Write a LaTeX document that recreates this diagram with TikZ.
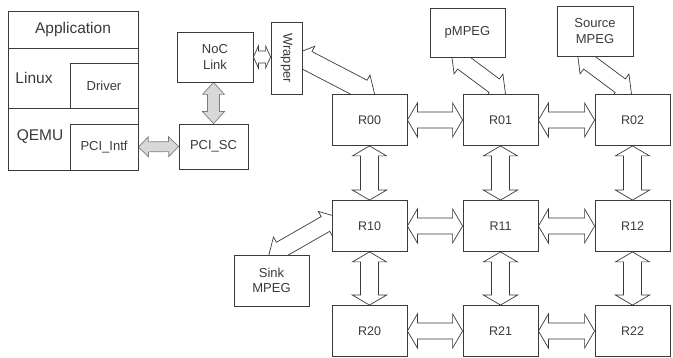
\documentclass[tikz,border=0pt]{standalone}
\usepackage{fontspec}
\setmainfont{Liberation Sans}
\usepackage{tikz}
\usetikzlibrary{calc,backgrounds}

\definecolor{edgegray}{HTML}{3A3A3A}
\definecolor{fillgray}{HTML}{D8D8D8}
\definecolor{rimgray}{HTML}{7C7C7C}

% block arrow with two heads: [style]{from}{to}{head half width}{shaft half width}{head length}
\newcommand{\fatarrow}[6][]{%
  \coordinate (fa1) at ($(#2)!#6!(#3)$);
  \coordinate (fa2) at ($(#3)!#6!(#2)$);
  \draw[#1] (#2) -- ($(fa1)!#4!90:(#3)$) -- ($(fa1)!#5!90:(#3)$)
    -- ($(fa2)!#5!-90:(#2)$) -- ($(fa2)!#4!-90:(#2)$) -- (#3)
    -- ($(fa2)!#4!90:(#2)$) -- ($(fa2)!#5!90:(#2)$)
    -- ($(fa1)!#5!-90:(#3)$) -- ($(fa1)!#4!-90:(#3)$) -- cycle;
}

\begin{document}
\begin{tikzpicture}[x=1pt,y=-1pt,line width=0.8pt,
    box/.style={draw=edgegray, fill=white, inner sep=0pt, text=edgegray,
      font=\fontsize{13}{15.5}\selectfont, align=center},
    router/.style={box, minimum width=75pt, minimum height=51pt,
      font=\fontsize{12.5}{15}\selectfont},
    layer/.style={text=edgegray, font=\fontsize{15.5}{18}\selectfont},
    hollow/.style={draw=edgegray, fill=white, line width=0.7pt, line join=miter},
    shaded/.style={draw=rimgray, fill=fillgray, line width=0.7pt}]
  \useasboundingbox (0,0) rectangle (673,358);

  % host side
  \node[box, minimum width=130pt, minimum height=37pt, font=\fontsize{15.5}{18}\selectfont] (app) at (73,29.5) {Application};
  \node[box, minimum width=130pt, minimum height=60pt] (linux) at (73,78) {};
  \node[box, minimum width=130pt, minimum height=62pt] (qemu) at (73,139) {};
  \node[box, minimum width=68pt, minimum height=45pt] (driver) at (104,85.5) {Driver};
  \node[box, minimum width=68pt, minimum height=46pt] (pciintf) at (104,147) {PCI\_Intf};
  \node[layer] (linuxlbl) at (34,78) {Linux};
  \node[layer] (qemulbl) at (40,137) {QEMU};

  \node[box, minimum width=76pt, minimum height=50pt] (noc) at (215,57) {NoC\\Link};
  \node[box, minimum width=69pt, minimum height=45pt] (pcisc) at (213.5,146.5) {PCI\_SC};
  \node[box, minimum width=31pt, minimum height=72pt] (wrap) at (286.5,58) {\rotatebox{-90}{Wrapper}};

  % mesh
  \node[router] (R00) at (369.5,120) {R00};
  \node[router] (R01) at (500.5,120) {R01};
  \node[router] (R02) at (632.5,120) {R02};
  \node[router] (R10) at (369.5,226) {R10};
  \node[router] (R11) at (500.5,226) {R11};
  \node[router] (R12) at (632.5,226) {R12};
  \node[router] (R20) at (369.5,331) {R20};
  \node[router] (R21) at (500.5,331) {R21};
  \node[router] (R22) at (632.5,331) {R22};

  \node[box, minimum width=75pt, minimum height=49pt] (pmpeg) at (467.5,32.5) {pMPEG};
  \node[box, minimum width=76pt, minimum height=50pt] (srcmpeg) at (595,31) {Source\\MPEG};
  \node[box, minimum width=75pt, minimum height=51pt] (sinkmpeg) at (271.5,280.5) {Sink\\MPEG};

  \begin{scope}[on background layer]
    \coordinate (pcitop) at (noc.south -| pcisc.north);
    \fatarrow[shaded]{pciintf.east}{pcisc.west}{10pt}{5pt}{10pt}
    \fatarrow[shaded]{pcitop}{pcisc.north}{11pt}{6pt}{12pt}
    \coordinate (wrapin) at (noc.east -| wrap.west);
    \fatarrow[hollow]{noc.east}{wrapin}{11pt}{6pt}{5pt}

    \coordinate (wraptail) at ($(wrap.center)+(8.5,-4)$);
    \coordinate (wraphead) at ($(R00.north)+(5.5,1.5)$);
    \fatarrow[hollow]{wraptail}{wraphead}{16pt}{10pt}{14pt}
    \coordinate (ptail) at ($(pmpeg.south)+(-16,-3.5)$);
    \coordinate (phead) at ($(R01.north)+(5,0)$);
    \fatarrow[hollow]{ptail}{phead}{14.5pt}{8.5pt}{14pt}
    \coordinate (stail) at ($(srcmpeg.south)+(-17.5,-2.5)$);
    \coordinate (shead) at ($(R02.north)+(-1,0)$);
    \fatarrow[hollow]{stail}{shead}{14.5pt}{8.5pt}{14pt}
    \coordinate (ktail) at ($(sinkmpeg.north)+(-3,2)$);
    \coordinate (khead) at ($(R10.west)+(6,-9)$);
    \fatarrow[hollow]{ktail}{khead}{14.5pt}{8.5pt}{14pt}

    % mesh links
    \foreach \r in {0,1,2}{
      \fatarrow[hollow]{R\r0.east}{R\r1.west}{17pt}{8pt}{10pt}
      \fatarrow[hollow]{R\r1.east}{R\r2.west}{17pt}{8pt}{10pt}
    }
    \foreach \c in {0,1,2}{
      \fatarrow[hollow]{R0\c.south}{R1\c.north}{17pt}{9pt}{10pt}
      \fatarrow[hollow]{R1\c.south}{R2\c.north}{17pt}{9pt}{10pt}
    }
  \end{scope}
\end{tikzpicture}
\end{document}
